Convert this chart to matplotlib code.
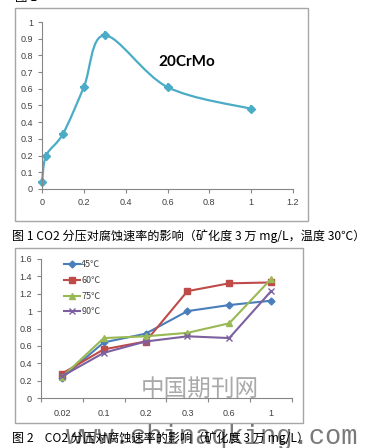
import numpy as np
import matplotlib
matplotlib.use('Agg')
import matplotlib.pyplot as plt
from matplotlib.path import Path
from matplotlib.patches import PathPatch, Rectangle

plt.rcParams['font.family'] = ['Noto Sans CJK SC', 'DejaVu Sans']

# chart 1 data
p_co2 = [0, 0.02, 0.1, 0.2, 0.3, 0.6, 1.0]
rate = [0.04, 0.20, 0.33, 0.61, 0.92, 0.61, 0.48]

# chart 2 data
cats = ['0.02', '0.1', '0.2', '0.3', '0.6', '1']
s45 = [0.23, 0.64, 0.74, 1.00, 1.07, 1.12]
s60 = [0.28, 0.56, 0.65, 1.23, 1.32, 1.33]
s75 = [0.24, 0.69, 0.71, 0.75, 0.86, 1.37]
s90 = [0.25, 0.52, 0.65, 0.71, 0.69, 1.23]
names = ['45℃', '60℃', '75℃', '90℃']

W, H = 365, 448
fig = plt.figure(figsize=(W / 100, H / 100), dpi=100)

def box(x0, y0, x1, y1):
    fig.patches.append(Rectangle((x0 / W, 1 - y1 / H), (x1 - x0) / W, (y1 - y0) / H,
                                 transform=fig.transFigure, fill=False,
                                 edgecolor='#a6a6a6', lw=1.0))

def style(ax):
    for s in ['top', 'right']:
        ax.spines[s].set_visible(False)
    for s in ['left', 'bottom']:
        ax.spines[s].set_color('#868686')
        ax.spines[s].set_linewidth(0.8)
    ax.tick_params(colors='#868686', labelcolor='#404040', labelsize=6.5,
                   length=3, width=0.8)
    for lab in ax.get_xticklabels() + ax.get_yticklabels():
        lab.set_family('Liberation Sans')

# ---------- chart 1 ----------
box(15, 8, 308, 221)
ax1 = fig.add_axes([42 / W, 1 - 189 / H, 251 / W, 167 / H])
ax1.set_xlim(0, 1.2)
ax1.set_ylim(0, 1)
ax1.set_xticks(np.arange(0, 1.21, 0.2))
ax1.set_xticklabels(['0', '0.2', '0.4', '0.6', '0.8', '1', '1.2'])
ax1.set_yticks(np.arange(0, 1.01, 0.1))
ax1.set_yticklabels(['0', '0.1', '0.2', '0.3', '0.4', '0.5', '0.6', '0.7', '0.8', '0.9', '1'])
style(ax1)

# smoothed line (bezier through the points, like Excel)
sx, sy = 251 / 1.2, 167.0
P = np.column_stack([np.array(p_co2) * sx, np.array(rate) * sy])
verts = [tuple(P[0])]
codes = [Path.MOVETO]
n = len(P)
for i in range(n - 1):
    pm = P[i - 1] if i > 0 else P[i]
    pn = P[i + 2] if i + 2 < n else P[i + 1]
    c1 = P[i] + (P[i + 1] - pm) / 6
    c2 = P[i + 1] - (pn - P[i]) / 6
    verts += [tuple(c1), tuple(c2), tuple(P[i + 1])]
    codes += [Path.CURVE4] * 3
verts = [(vx / sx, vy / sy) for vx, vy in verts]
ax1.add_patch(PathPatch(Path(verts, codes), fill=False, edgecolor='#4BACC6', lw=1.6,
                        clip_on=False))
ax1.plot(p_co2, rate, linestyle='none', marker='D', ms=4, color='#4BACC6', clip_on=False)
ax1.plot(p_co2, rate, linestyle='none', marker='+', ms=6, mew=1.5, color='#4BACC6', clip_on=False)
ax1.text(0.555, 0.76, '20CrMo', fontsize=11, fontweight='bold', family='Lato',
         ha='left', va='center', color='black')

fig.text(15 / W, 1 + 3 / H, '图 1', fontsize=9, ha='left', va='center')
fig.text(12 / W, 1 - 236 / H, '图 1 CO2 分压对腐蚀速率的影响（矿化度 3 万 mg/L，温度 30℃）',
         fontsize=8.7, ha='left', va='center')

# ---------- chart 2 ----------
box(15, 248, 303, 423)
ax2 = fig.add_axes([41 / W, 1 - 398 / H, 251 / W, 139 / H])
xs = np.arange(len(cats))
ax2.set_xlim(-0.5, len(cats) - 0.5)
ax2.set_ylim(0, 1.6)
ax2.set_yticks(np.arange(0, 1.61, 0.2))
ax2.set_yticklabels(['0', '0.2', '0.4', '0.6', '0.8', '1', '1.2', '1.4', '1.6'])
ax2.set_xticks(xs)
ax2.set_xticklabels(cats)
ax2.set_xticks(np.arange(-0.5, len(cats), 1), minor=True)
style(ax2)
ax2.tick_params(axis='x', which='major', length=0, pad=8)
ax2.tick_params(axis='x', which='minor', length=3, color='#868686', width=0.8)

series = [s45, s60, s75, s90]
colors = ['#4A7EBB', '#BE4B48', '#98B954', '#7D60A0']
markers = ['D', 's', '^', 'x']
msizes = [3.5, 5, 5, 5]
for vals, c, m, ms, nm in zip(series, colors, markers, msizes, names):
    ax2.plot(xs, vals, color=c, lw=1.5, marker=m, ms=ms, mew=1.0, label=nm)
leg = ax2.legend(loc='upper left', bbox_to_anchor=(0.06, 1.05), frameon=False,
                 fontsize=6.5, handlelength=1.8, handletextpad=0.1, labelspacing=0.75)
for t in leg.get_texts():
    t.set_color('#404040')

# watermarks
fig.text(200 / W, 1 - 389 / H, '中国期刊网', fontsize=17, color='#a0a0a0',
         ha='center', va='center', alpha=0.9)
fig.text(66 / W, 1 - 444 / H, 'www.chinaqking.com', fontsize=19.5, color='#7a7a7a',
         family='Liberation Mono', ha='left', va='baseline', zorder=1)

fig.text(12 / W, 1 - 438 / H, '图 2    CO2 分压对腐蚀速率的影响（矿化度 3 万 mg/L）',
         fontsize=8.7, ha='left', va='center', zorder=5)

fig.savefig('out.png', dpi=100)
